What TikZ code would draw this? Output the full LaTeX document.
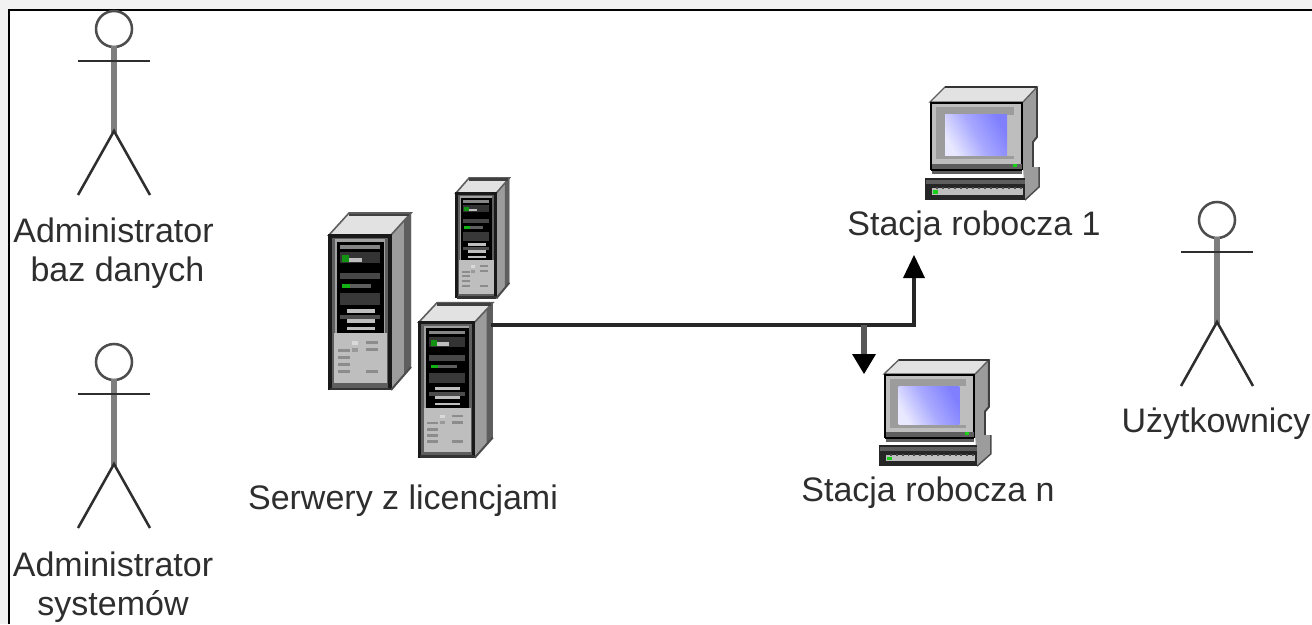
\documentclass[tikz,border=0pt]{standalone}
\usepackage{fontspec}
\setmainfont{Liberation Sans}
\usetikzlibrary{arrows.meta}
\definecolor{ink}{HTML}{2E2E2E}
\definecolor{stick}{HTML}{7E7E7E}
\definecolor{outerbg}{HTML}{F2F2F2}
\definecolor{screenlo}{HTML}{8080FF}
\definecolor{screenhi}{HTML}{E8E8FF}
\definecolor{bezel}{HTML}{BEBEBE}
\definecolor{sidegray}{HTML}{9C9C9C}
\definecolor{darkgray}{HTML}{5E5E5E}
\definecolor{topgray}{HTML}{E2E2E2}
\definecolor{ledgreen}{HTML}{18D018}
\tikzset{
  x=0.75pt,y=-0.75pt,
  label text/.style={font=\fontsize{25.5pt}{29.5pt}\selectfont,text=ink,inner sep=0pt,align=center},
  wire/.style={draw=black!85,line width=3.4pt},
  wire thin/.style={draw=stick!70!black,line width=4.2pt},
  tip/.style={fill=black,draw=none},
  pics/actor/.style={code={
    \draw[draw=ink!85!white,line width=1.9pt] (0,-32) circle[radius=18*0.75pt];
    \draw[stick,line width=4.4pt] (0,-15) -- (0,72);
    \draw[ink,line width=2.2pt] (-36,0) -- (36,0);
    \draw[ink,line width=1.9pt] (-36,134) -- (0,70) -- (36,134);
  }},
  pics/server/.style={code={
    \fill[sidegray] (62,0) -- (82,-22) -- (82,132) -- (62,155) -- cycle;
    \fill[darkgray] (75,-14) -- (82,-22) -- (82,132) -- (75,140) -- cycle;
    \fill[topgray,draw=darkgray,line width=1.2pt] (0,0) -- (20,-22) -- (82,-22) -- (62,0) -- cycle;
    \draw[black!75,line width=2pt] (20,-20) -- (80,-20);
    \fill[darkgray] (0,0) rectangle (62,155);
    \fill[bezel!85!black] (6,4) rectangle (56,148);
    \fill[black] (8,7) rectangle (55,98);
    \fill[bezel!70!black] (11,10) rectangle (51,14);
    \fill[black!80] (11,17) rectangle (51,28);
    \fill[ledgreen!70!black] (13,20) rectangle (20,27);
    \fill[bezel] (20,23) rectangle (33,27);
    \fill[black!72] (11,38) rectangle (51,44);
    \fill[ledgreen!85!black] (13,49) rectangle (21,53);
    \fill[darkgray] (21,49) rectangle (42,53);
    \fill[black!78] (11,58) rectangle (51,70);
    \fill[bezel] (18,74) rectangle (46,78);
    \fill[black!70] (11,80) rectangle (51,84);
    \fill[bezel] (18,84) rectangle (46,88);
    \fill[bezel] (18,92) rectangle (46,95);
    \fill[bezel] (5,98) rectangle (58,148);
    \fill[white!85!black] (23,106) rectangle (29,110);
    \foreach \yy in {114,121,128,135}{\fill[black!45] (9,\yy) rectangle (21,\yy+3);}
    \foreach \yy in {106,113,135}{\fill[black!45] (37,\yy) rectangle (49,\yy+3);}
    \fill[black!40] (23,113) rectangle (29,117);
    \fill[darkgray] (2,148) rectangle (60,155);
    \draw[black!90,line width=2.3pt] (1,155) -- (1,1) -- (61,1) -- (61,155);
    \draw[black!80,line width=2pt] (1,154) -- (61,154);
    \draw[black!70,line width=1.5pt] (62,155) -- (82,132);
  }},
  pics/station/.style={code={
    \fill[sidegray] (93,0) -- (107,-15) -- (107,35) -- (103,40) -- (103,68) -- (93,68) -- cycle;
    \draw[black!75,line width=1.4pt] (107,-15) -- (107,35) -- (103,40) -- (103,66);
    \fill[topgray,draw=darkgray,line width=1pt] (0,0) -- (15,-15) -- (107,-15) -- (93,0) -- cycle;
    \draw[black!80,line width=1.8pt] (15,-15) -- (107,-15);
    \fill[bezel] (0,0) rectangle (93,68);
    \fill[sidegray] (6,5) rectangle (84,57);
    \fill[bezel] (15,13) rectangle (84,54);
    \shade[left color=screenhi,right color=screenlo,middle color=screenlo!68!white,shading angle=120] (15,13) rectangle (77,54);
    \draw[black,line width=1.9pt] (1,68) -- (1,1) -- (92,1) -- (92,68);
    \fill[darkgray] (2,62) rectangle (92,72);
    \fill[ledgreen] (83,62) rectangle (87,65);
    \draw[black,line width=1.6pt] (1,68) -- (92,68);
    \fill[sidegray] (93,65) -- (109,65) -- (109,85) -- (95,98) -- cycle;
    \draw[black!70,line width=1.1pt] (95,98) -- (109,85) -- (109,65);
    \fill[black!85] (-5,76) rectangle (95,98);
    \fill[bezel] (2,86) rectangle (93,93);
    \fill[ledgreen] (3,88) rectangle (8,92);
    \foreach \xx in {6,12,...,90}{\fill[black!70] (\xx,85) rectangle (\xx+2,87);}
    \fill[darkgray] (-4,78) rectangle (95,82);
  }},
}
\begin{document}
\begin{tikzpicture}
\useasboundingbox (0,0) rectangle (1312,624);
\fill[outerbg] (0,0) rectangle (1312,624);
\fill[white] (9,10) rectangle (1312,624);
\draw[black,line width=2pt] (9,624) -- (9,10) -- (1312,10);

\pic at (114,61) {actor};
\pic at (114,394) {actor};
\pic at (1217,252) {actor};

\node[label text] (adminbaz) at (113.5,253.5) {Administrator\\\hspace*{6pt}baz danych};
\node[label text] (adminsys) at (113,587) {Administrator\\systemów};
\node[label text] (users) at (1216,424) {Użytkownicy};
\node[label text] (srvlabel) at (403,501) {Serwery z licencjami};
\node[label text] (st1label) at (974,227) {Stacja robocza 1};
\node[label text] (stnlabel) at (928,493) {Stacja robocza n};

\pic[xscale=1,yscale=1] at (329,235) {server};
\pic[xscale=0.65,yscale=0.68] at (456,193) {server};
\pic[xscale=0.9,yscale=0.875] at (419,322) {server};

\pic at (930,102) {station};
\pic[yscale=0.94,xscale=0.98] at (884,374) {station};

\coordinate (srvport) at (491,325);
\coordinate (branch) at (864,325);
\coordinate (bend) at (914,325);
\coordinate (st1port) at (914,278);
\coordinate (st1tip) at (914,255);
\coordinate (stnport) at (864,354);
\coordinate (stntip) at (864,374);

\draw[wire] (srvport) -- (bend) -- (st1port);
\draw[wire thin] (branch) -- (stnport);
\fill[tip] (st1tip) -- ([xshift=-11pt*0.75]st1port) -- ([xshift=11pt*0.75]st1port) -- cycle;
\fill[tip] (stntip) -- ([xshift=-12pt*0.75]stnport) -- ([xshift=12pt*0.75]stnport) -- cycle;
\end{tikzpicture}
\end{document}
